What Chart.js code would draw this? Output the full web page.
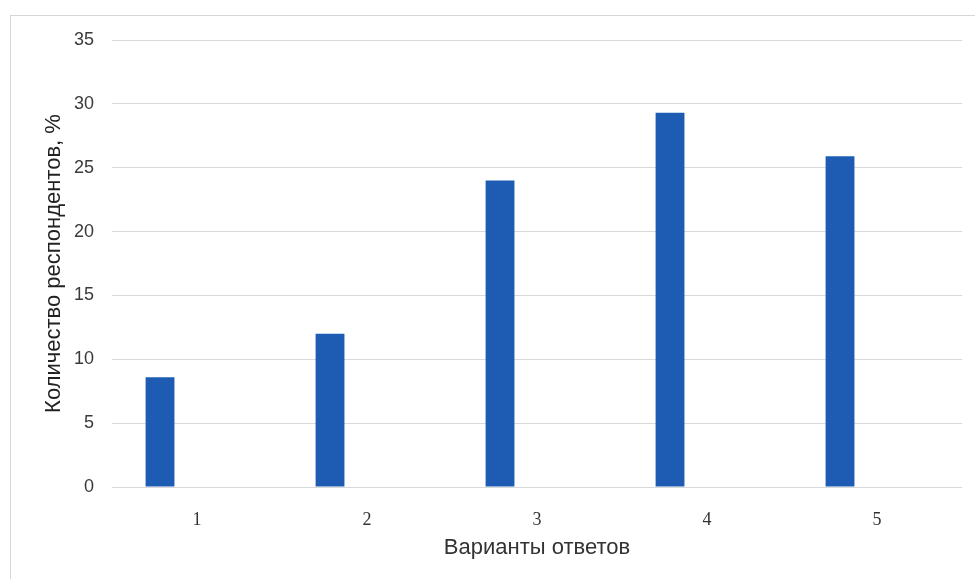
<!DOCTYPE html>
<html><head><meta charset="utf-8">
<script src="https://cdn.jsdelivr.net/npm/chart.js@4/dist/chart.umd.min.js"></script>
<style>
html,body{margin:0;padding:0;background:#fff;}
#wrap{position:absolute;left:0;top:0;width:975px;height:579px;}
#frame{position:absolute;left:10px;top:15px;width:980px;height:580px;border:1px solid #d6d6d6;box-sizing:border-box;}
</style></head>
<body>
<div id="frame"></div>
<div id="wrap"><canvas id="c" width="975" height="579"></canvas></div>
<script>
const categories = ['1','2','3','4','5'];
const respondents = [8.6, 12.0, 24.0, 29.3, 25.9];
const emptySeries = [0, 0, 0, 0, 0];
const yTitle = 'Количество респондентов, %';
const xTitle = 'Варианты ответов';

new Chart(document.getElementById('c'), {
  type: 'bar',
  data: {
    labels: categories,
    datasets: [
      {data: respondents, backgroundColor: '#1e5cb3', categoryPercentage: 0.87, barPercentage: 0.39},
      {data: emptySeries, backgroundColor: 'rgba(0,0,0,0)', categoryPercentage: 0.87, barPercentage: 0.39}
    ]
  },
  options: {
    responsive: false,
    animation: false,
    devicePixelRatio: 1,
    layout: {padding: {left: 0, top: 40, right: 13, bottom: 0}},
    plugins: {legend: {display: false}, tooltip: {enabled: false}},
    scales: {
      x: {
        grid: {display: false, drawTicks: false},
        border: {display: false},
        ticks: {padding: 22, color: '#333', font: {family: 'Liberation Serif', size: 18}},
        title: {display: true, text: xTitle, color: '#333', font: {family: 'Liberation Sans', size: 22}, padding: {top: 0, bottom: 18}},
        afterFit: s => { s.height = 92; }
      },
      y: {
        min: 0, max: 35,
        ticks: {stepSize: 5, padding: 18, color: '#3a3a3a', font: {family: 'Liberation Sans', size: 18}},
        grid: {color: '#d9d9d9', lineWidth: 1, drawTicks: false},
        border: {display: false},
        title: {display: true, text: yTitle, color: '#222', font: {family: 'Liberation Sans', size: 22}, padding: {top: 41, bottom: 0}},
        afterFit: s => { s.width = 112; }
      }
    }
  }
});
</script>
</body></html>
